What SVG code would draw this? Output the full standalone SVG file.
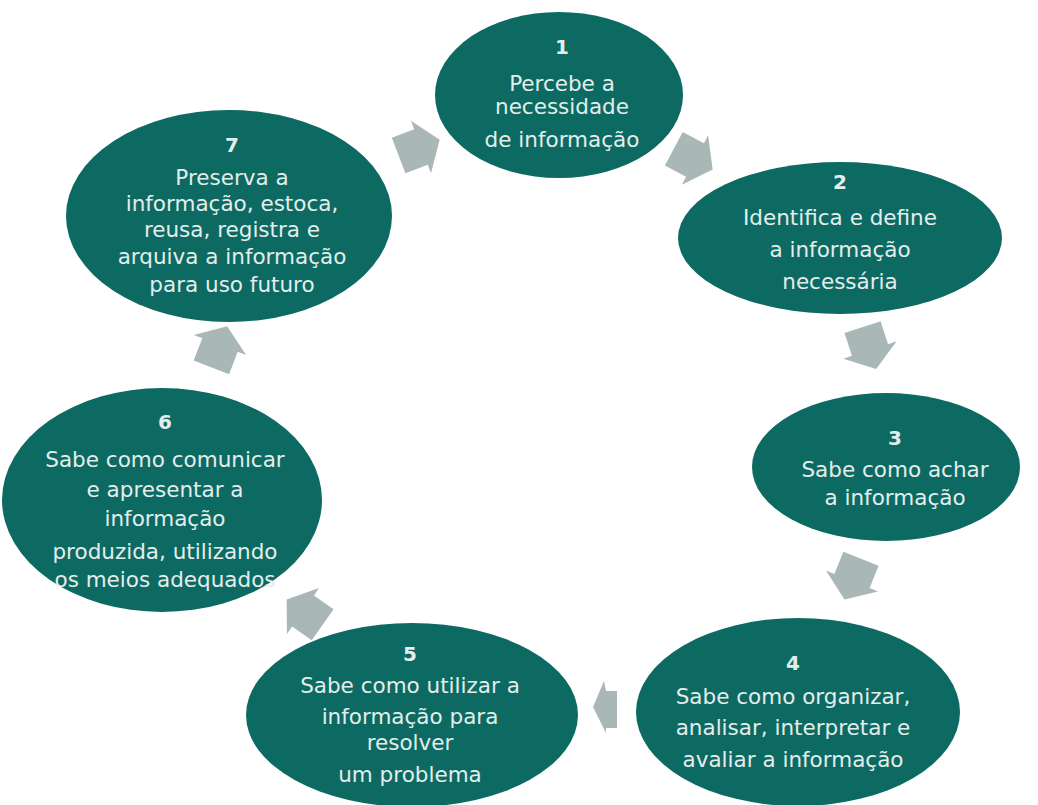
<svg xmlns="http://www.w3.org/2000/svg" width="1038" height="805" viewBox="0 0 1038 805">
<defs>
<style>
.node ellipse{fill:#0d6a63}
.node text{font-family:"DejaVu Sans",Verdana,sans-serif;font-size:21.5px;fill:#e3eeec;text-anchor:middle}
.node text.n{font-weight:bold;font-size:20px}
.arrow{fill:#a9b8b7}
</style>
<path id="arr" d="M -24,-19 L 0,-19 L 0,-28 L 20,0 L 0,28 L 0,19 L -24,19 Z"/>
</defs>
<rect width="1038" height="805" fill="#ffffff"/>
<g id="connectors" class="arrow">
<use href="#arr" transform="translate(421,147) rotate(-21)"/>
<use href="#arr" transform="translate(695,160) rotate(28)"/>
<use href="#arr" transform="translate(870,350) rotate(72)"/>
<use href="#arr" transform="translate(852,581) rotate(112)"/>
<path d="M 604,681 L 606,691 L 617,691 L 617,728 L 606,728 L 606,733 L 593,707 Z"/>
<use href="#arr" transform="translate(303,611) rotate(-145)"/>
<use href="#arr" transform="translate(220,345) rotate(-69)"/>
</g>
<g id="node1" class="node">
<ellipse cx="559" cy="95" rx="124" ry="83"/>
<text class="n" x="562" y="54">1</text>
<text x="562" y="91">Percebe a</text>
<text x="562" y="114">necessidade</text>
<text x="562" y="147">de informação</text>
</g>
<g id="node2" class="node">
<ellipse cx="840" cy="238" rx="162" ry="76"/>
<text class="n" x="840" y="189">2</text>
<text x="840" y="225">Identifica e define</text>
<text x="840" y="257">a informação</text>
<text x="840" y="289">necessária</text>
</g>
<g id="node3" class="node">
<ellipse cx="886" cy="467" rx="134" ry="74"/>
<text class="n" x="895" y="445">3</text>
<text x="895" y="477">Sabe como achar</text>
<text x="895" y="505">a informação</text>
</g>
<g id="node4" class="node">
<ellipse cx="798" cy="712" rx="162" ry="94"/>
<text class="n" x="793" y="670">4</text>
<text x="793" y="704">Sabe como organizar,</text>
<text x="793" y="735">analisar, interpretar e</text>
<text x="793" y="767">avaliar a informação</text>
</g>
<g id="node5" class="node">
<ellipse cx="412" cy="715" rx="166" ry="92"/>
<text class="n" x="410" y="661">5</text>
<text x="410" y="693">Sabe como utilizar a</text>
<text x="410" y="724">informação para</text>
<text x="410" y="750">resolver</text>
<text x="410" y="782">um problema</text>
</g>
<g id="node6" class="node">
<ellipse cx="162" cy="500" rx="160" ry="112"/>
<text class="n" x="165" y="429">6</text>
<text x="165" y="467">Sabe como comunicar</text>
<text x="165" y="497">e apresentar a</text>
<text x="165" y="526">informação</text>
<text x="165" y="559">produzida, utilizando</text>
<text x="165" y="587">os meios adequados</text>
</g>
<g id="node7" class="node">
<ellipse cx="229" cy="216" rx="163" ry="106"/>
<text class="n" x="232" y="152">7</text>
<text x="232" y="185">Preserva a</text>
<text x="232" y="211">informação, estoca,</text>
<text x="232" y="237">reusa, registra e</text>
<text x="232" y="264">arquiva a informação</text>
<text x="232" y="292">para uso futuro</text>
</g>
</svg>
